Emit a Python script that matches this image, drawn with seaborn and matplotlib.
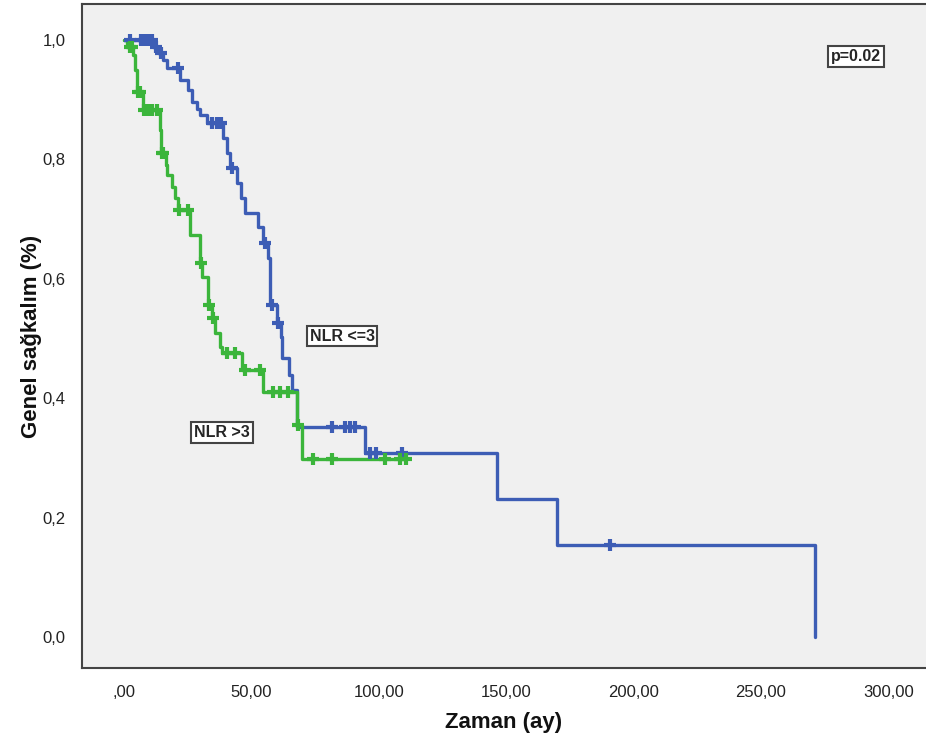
import numpy as np
import pandas as pd
import matplotlib
matplotlib.use("Agg")
import matplotlib.pyplot as plt
import seaborn as sns

# ---------------- data ----------------
group_names = ["NLR <=3", "NLR >3"]

blue_times = [0, 11.4, 13.3, 15.3, 16.9, 22.0, 25.1, 26.7, 28.7, 29.8, 32.6,
              38.9, 40.4, 41.6, 44.3, 45.9, 47.5, 52.6, 54.6, 56.5, 57.3,
              60.2, 61.6, 62.0, 64.8, 66.0, 67.9, 94.6, 146.4, 170.0, 271.2]
blue_surv = [1.0, 0.988, 0.978, 0.966, 0.953, 0.933, 0.916, 0.896, 0.885, 0.874, 0.861,
             0.836, 0.81, 0.786, 0.76, 0.735, 0.71, 0.687, 0.66, 0.635, 0.556,
             0.526, 0.5025, 0.467, 0.439, 0.414, 0.352, 0.308, 0.231, 0.154, 0.0]
blue_censors = [2.5, 6.5, 8.0, 9.5, 11.0, 12.5, 14.5, 21.0, 34.5, 36.5, 38.0,
                42.4, 55.3, 58.0, 60.6, 81.6, 86.7, 88.7, 90.6, 96.5, 98.9,
                109.0, 190.7]

green_times = [0, 1.0, 3.5, 4.3, 5.1, 7.5, 14.1, 14.5, 16.5, 16.9, 18.8, 20.0,
               21.2, 25.9, 29.8, 30.6, 33.0, 34.5, 35.7, 37.7, 38.5, 46.3,
               54.6, 67.9, 69.9]
green_surv = [1.0, 0.988, 0.975, 0.95, 0.913, 0.883, 0.85, 0.81, 0.79, 0.774,
              0.754, 0.735, 0.715, 0.673, 0.626, 0.603, 0.556, 0.534, 0.509,
              0.486, 0.476, 0.447, 0.41, 0.355, 0.298]
green_censors = [2.4, 3.0, 5.5, 6.3, 8.0, 9.5, 11.0, 13.0, 15.0, 15.5, 21.6,
                 25.0, 30.2, 33.5, 35.0, 40.4, 43.6, 47.5, 53.4, 58.5, 61.2,
                 64.4, 68.3, 74.2, 81.6, 102.4, 108.3, 110.5]
green_end = 110.5

x_ticks = [0, 50, 100, 150, 200, 250, 300]
x_tick_labels = [",00", "50,00", "100,00", "150,00", "200,00", "250,00", "300,00"]
y_ticks = [0.0, 0.2, 0.4, 0.6, 0.8, 1.0]
y_tick_labels = ["0,0", "0,2", "0,4", "0,6", "0,8", "1,0"]

x_label = "Zaman (ay)"
y_label = "Genel sağkalım (%)"
p_text = "p=0.02"

# ---------------- build tables ----------------
def step_value(times, surv, t):
    idx = np.searchsorted(np.asarray(times), t, side="right") - 1
    return np.asarray(surv)[idx]

g_times_full = green_times + [green_end]
g_surv_full = green_surv + [green_surv[-1]]

curves = pd.concat([
    pd.DataFrame({"t": blue_times, "S": blue_surv, "grp": group_names[0]}),
    pd.DataFrame({"t": g_times_full, "S": g_surv_full, "grp": group_names[1]}),
], ignore_index=True)

cens = pd.concat([
    pd.DataFrame({"t": blue_censors,
                  "S": step_value(blue_times, blue_surv, blue_censors),
                  "grp": group_names[0]}),
    pd.DataFrame({"t": green_censors,
                  "S": step_value(green_times, green_surv, green_censors),
                  "grp": group_names[1]}),
], ignore_index=True)

palette = {group_names[0]: "#3d5db5", group_names[1]: "#3bb53b"}

# ---------------- plot ----------------
sns.set_style("white")
plt.rcParams["font.family"] = ["Liberation Sans", "DejaVu Sans"]

fig = plt.figure(figsize=(9.26, 7.47), dpi=100)
ax = fig.add_axes([82 / 926, 79 / 747, (926 - 82) / 926, (668 - 4) / 747])
ax.set_facecolor("#f0f0f0")

for g in group_names:
    sub = curves[curves.grp == g]
    sns.lineplot(data=sub, x="t", y="S", ax=ax, color=palette[g],
                 drawstyle="steps-post", linewidth=2.4, estimator=None,
                 sort=False, legend=False)
    csub = cens[cens.grp == g]
    sns.scatterplot(data=csub, x="t", y="S", ax=ax, color=palette[g],
                    marker="+", s=85, linewidth=3.0, legend=False, zorder=3)

ax.set_xlim((82 - 124) / 2.548, (926 - 124) / 2.548)
ax.set_ylim((637 - 668) / 597, (637 - 4) / 597)

ax.set_xticks(x_ticks)
ax.set_xticklabels(x_tick_labels)
ax.set_yticks(y_ticks)
ax.set_yticklabels(y_tick_labels)
ax.tick_params(axis="both", direction="out", length=6, width=1.3,
               color="#333333", labelsize=12, labelcolor="#222222", pad=6)

for side in ["left", "bottom", "top"]:
    ax.spines[side].set_color("#444444")
    ax.spines[side].set_linewidth(1.5)
ax.spines["right"].set_visible(False)

ax.set_xlabel(x_label, fontsize=16, fontweight="bold", labelpad=9, color="#111111")
ax.set_ylabel(y_label, fontsize=16, fontweight="bold", labelpad=0, color="#111111")

box = dict(boxstyle="square,pad=0.18", fc="white", ec="#444444", lw=1.5)
ax.text(287.3, 0.972, p_text, fontsize=11.5, fontweight="bold",
        ha="center", va="center", bbox=box)
ax.text(85.6, 0.504, group_names[0], fontsize=11.5, fontweight="bold",
        ha="center", va="center", bbox=box)
ax.text(38.5, 0.342, group_names[1], fontsize=11.5, fontweight="bold",
        ha="center", va="center", bbox=box)

fig.savefig("out.png", dpi=100, facecolor="white")
